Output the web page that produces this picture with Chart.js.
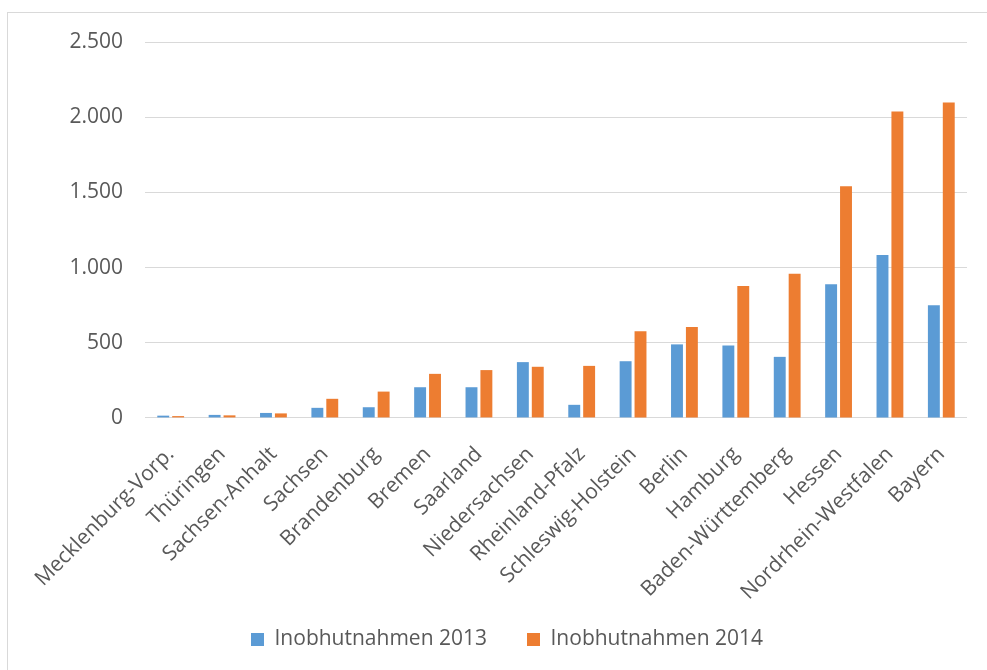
<!DOCTYPE html>
<html lang="de">
<head>
<meta charset="utf-8">
<script src="https://cdn.jsdelivr.net/npm/chart.js@4.4.1/dist/chart.umd.min.js"></script>
<style>
  html, body { margin: 0; padding: 0; background: #fff; overflow: hidden; }
  #frame {
    position: absolute; left: 7px; top: 12px; width: 990px; height: 670px;
    border: 1px solid #d9d9d9; box-sizing: border-box;
  }
  #wrap { position: absolute; left: 0; top: 0; width: 987px; height: 670px; }
</style>
</head>
<body>
<div id="frame"></div>
<div id="wrap"><canvas id="chart"></canvas></div>
<script>
// Bundesländer, aufsteigend nach Inobhutnahmen 2014
const laender = [
  'Mecklenburg-Vorp.', 'Thüringen', 'Sachsen-Anhalt', 'Sachsen', 'Brandenburg',
  'Bremen', 'Saarland', 'Niedersachsen', 'Rheinland-Pfalz', 'Schleswig-Holstein',
  'Berlin', 'Hamburg', 'Baden-Württemberg', 'Hessen', 'Nordrhein-Westfalen', 'Bayern'
];
const werte2013 = [15, 20, 33, 67, 71, 204, 204, 371, 87, 377, 489, 482, 406, 889, 1083, 750];
const werte2014 = [12, 17, 30, 127, 175, 293, 318, 340, 346, 576, 605, 877, 958, 1540, 2038, 2098];
const yTicks = [0, 500, 1000, 1500, 2000, 2500];

const blau = '#5B9BD5';
const orange = '#ED7D31';
const textFarbe = '#595959';

Chart.defaults.font.family = "'Open Sans', sans-serif";
Chart.defaults.color = textFarbe;

// Tausenderpunkt wie im Deutschen
const fmt = v => String(v).replace(/\B(?=(\d{3})+(?!\d))/g, '.');

// Legende etwas näher an die schrägen Achsenbeschriftungen rücken
// (nur die Oberkante verschieben, damit der Clip-Bereich groß genug bleibt)
const legendeHoch = {
  id: 'legendeHoch',
  afterLayout(chart) {
    chart.legend.top -= 32;
  }
};

new Chart(document.getElementById('chart'), {
  type: 'bar',
  data: {
    labels: laender,
    datasets: [
      { label: 'Inobhutnahmen 2013', data: werte2013, backgroundColor: blau },
      { label: 'Inobhutnahmen 2014', data: werte2014, backgroundColor: orange }
    ]
  },
  plugins: [legendeHoch],
  options: {
    responsive: true,
    maintainAspectRatio: false,
    animation: false,
    categoryPercentage: 0.58,
    barPercentage: 0.8,
    layout: { padding: { left: 47, top: 42, right: 20, bottom: 0 } },
    plugins: {
      tooltip: { enabled: false },
      legend: {
        position: 'bottom',
        maxHeight: 49,
        labels: {
          font: { size: 21 },
          boxWidth: 13,
          boxHeight: 13,
          padding: 40,
          color: textFarbe
        }
      }
    },
    scales: {
      x: {
        grid: { display: false },
        border: { display: false },
        ticks: {
          font: { size: 21 },
          minRotation: 45,
          maxRotation: 45,
          padding: 16,
          autoSkip: false
        },
        // erste Beschriftung darf unter die y-Achse ragen
        afterFit: s => { s.paddingLeft = 0; }
      },
      y: {
        min: 0,
        max: 2500,
        afterBuildTicks: axis => { axis.ticks = yTicks.map(v => ({ value: v })); },
        afterFit: s => { s.width = 98; },
        grid: { color: '#d9d9d9', lineWidth: 1, drawTicks: false },
        border: { display: false },
        ticks: {
          font: { size: 21 },
          padding: 22,
          callback: v => fmt(v)
        }
      }
    }
  }
});
</script>
</body>
</html>
